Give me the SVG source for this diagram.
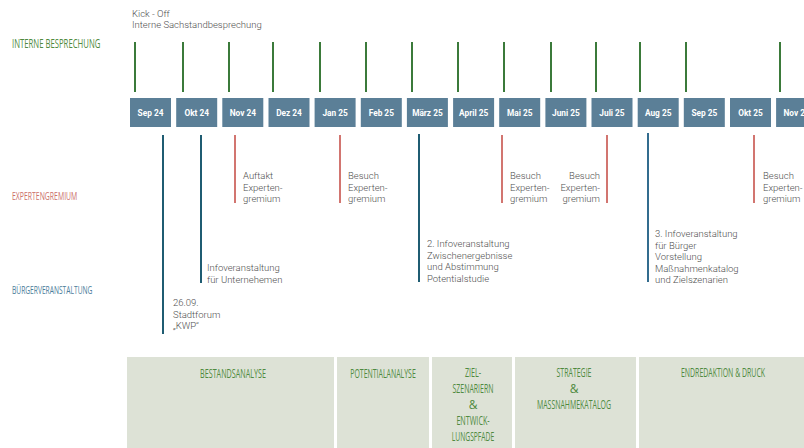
<svg xmlns="http://www.w3.org/2000/svg" width="804" height="448" viewBox="0 0 804 448">
<style>
.t{font-family:Roboto,"Liberation Sans",sans-serif;font-size:9.5px;font-weight:300;fill:#505050}
.m{font-family:Roboto,"Liberation Sans",sans-serif;font-size:8.3px;font-weight:700;fill:#ffffff;text-anchor:middle}
.mb{fill:#5b7f97}
.hd{font-family:"Open Sans","Liberation Sans",sans-serif;text-transform:uppercase;font-weight:400}
.ph{fill:#dde2d6}
.pt{font-family:"Open Sans","Liberation Sans",sans-serif;text-transform:uppercase;font-size:12px;fill:#4f8a40;text-anchor:middle}
.g{stroke:#3b7a3a;stroke-width:2}
.r{stroke:#d27570;stroke-width:2}
.b{stroke:#1f5c72;stroke-width:2}
.b2{stroke:#336c8e;stroke-width:2}
</style>
<rect width="804" height="448" fill="#ffffff"/>
<g id="labels">
<text class="hd" transform="translate(12,48) scale(0.62,1)" font-size="12.5" fill="#4f8a40">Interne Besprechung</text>
<text class="hd" transform="translate(12,200) scale(0.6,1)" font-size="11.5" fill="#cc706a">Expertengremium</text>
<text class="hd" transform="translate(12,294) scale(0.58,1)" font-size="11.5" fill="#4b7d9a">Bürgerveranstaltung</text>
</g>
<g id="kickoff">
<text class="t" x="132" y="17">Kick - Off</text>
<text class="t" x="132" y="28">Interne Sachstandbesprechung</text>
</g>
<g id="connectors">
<line class="g" x1="135" y1="42" x2="135" y2="92"/>
<line class="g" x1="183" y1="42" x2="183" y2="92"/>
<line class="g" x1="229" y1="42" x2="229" y2="92"/>
<line class="g" x1="273" y1="42" x2="273" y2="92"/>
<line class="g" x1="320" y1="42" x2="320" y2="92"/>
<line class="g" x1="366" y1="42" x2="366" y2="92"/>
<line class="g" x1="412" y1="42" x2="412" y2="92"/>
<line class="g" x1="458" y1="42" x2="458" y2="92"/>
<line class="g" x1="504" y1="42" x2="504" y2="92"/>
<line class="g" x1="551" y1="42" x2="551" y2="92"/>
<line class="g" x1="596" y1="42" x2="596" y2="92"/>
<line class="g" x1="640" y1="42" x2="640" y2="92"/>
<line class="g" x1="686" y1="42" x2="686" y2="92"/>
<line class="g" x1="780" y1="42" x2="780" y2="92"/>
<line class="b" x1="163" y1="135" x2="163" y2="334"/>
<line class="b" x1="201" y1="135" x2="201" y2="283"/>
<line class="r" x1="235" y1="135" x2="235" y2="203"/>
<line class="r" x1="340" y1="135" x2="340" y2="203"/>
<line class="b" x1="419" y1="134" x2="419" y2="282"/>
<line class="r" x1="502" y1="135" x2="502" y2="203"/>
<line class="r" x1="607" y1="135" x2="607" y2="203"/>
<line class="b2" x1="648" y1="133" x2="648" y2="282"/>
<line class="r" x1="754" y1="135" x2="754" y2="203"/>
</g>
<g id="months">
<rect class="mb" x="130" y="98" width="41" height="29"/><text class="m" x="150.5" y="116">Sep 24</text>
<rect class="mb" x="176.2" y="98" width="41" height="29"/><text class="m" x="196.7" y="116">Okt 24</text>
<rect class="mb" x="222.3" y="98" width="41" height="29"/><text class="m" x="242.8" y="116">Nov 24</text>
<rect class="mb" x="268.5" y="98" width="41" height="29"/><text class="m" x="289" y="116">Dez 24</text>
<rect class="mb" x="314.6" y="98" width="41" height="29"/><text class="m" x="335.1" y="116">Jan 25</text>
<rect class="mb" x="360.8" y="98" width="41" height="29"/><text class="m" x="381.3" y="116">Feb 25</text>
<rect class="mb" x="406.9" y="98" width="41" height="29"/><text class="m" x="427.4" y="116">März 25</text>
<rect class="mb" x="453.1" y="98" width="41" height="29"/><text class="m" x="473.6" y="116">April 25</text>
<rect class="mb" x="499.2" y="98" width="41" height="29"/><text class="m" x="519.7" y="116">Mai 25</text>
<rect class="mb" x="545.4" y="98" width="41" height="29"/><text class="m" x="565.9" y="116">Juni 25</text>
<rect class="mb" x="591.5" y="98" width="41" height="29"/><text class="m" x="612" y="116">Juli 25</text>
<rect class="mb" x="637.7" y="98" width="41" height="29"/><text class="m" x="658.2" y="116">Aug 25</text>
<rect class="mb" x="683.8" y="98" width="41" height="29"/><text class="m" x="704.3" y="116">Sep 25</text>
<rect class="mb" x="730" y="98" width="41" height="29"/><text class="m" x="750.5" y="116">Okt 25</text>
<rect class="mb" x="776.1" y="98" width="41" height="29"/><text class="m" x="796.6" y="116">Nov 25</text>
</g>
<g id="ev-stadtforum">
<text class="t" x="173" y="306">26.09.</text>
<text class="t" x="173" y="317.5">Stadtforum</text>
<text class="t" x="173" y="329">„KWP“</text>
</g>
<g id="ev-unternehmen">
<text class="t" x="207" y="271">Infoveranstaltung</text>
<text class="t" x="207" y="282.5">für Unternehemen</text>
</g>
<g id="ev-auftakt">
<text class="t" x="243" y="179">Auftakt</text>
<text class="t" x="243" y="190.5">Experten-</text>
<text class="t" x="243" y="202">gremium</text>
</g>
<g id="ev-besuch-jan">
<text class="t" x="348" y="179">Besuch</text>
<text class="t" x="348" y="190.5">Experten-</text>
<text class="t" x="348" y="202">gremium</text>
</g>
<g id="ev-info2">
<text class="t" x="427" y="247">2. Infoveranstaltung</text>
<text class="t" x="427" y="258.5">Zwischenergebnisse</text>
<text class="t" x="427" y="270">und Abstimmung</text>
<text class="t" x="427" y="281.5">Potentialstudie</text>
</g>
<g id="ev-besuch-mai">
<text class="t" x="510" y="179">Besuch</text>
<text class="t" x="510" y="190.5">Experten-</text>
<text class="t" x="510" y="202">gremium</text>
</g>
<g id="ev-besuch-juli" text-anchor="end">
<text class="t" x="600" y="179">Besuch</text>
<text class="t" x="600" y="190.5">Experten-</text>
<text class="t" x="600" y="202">gremium</text>
</g>
<g id="ev-info3">
<text class="t" x="655" y="237">3. Infoveranstaltung</text>
<text class="t" x="655" y="248.5">für Bürger</text>
<text class="t" x="655" y="260">Vorstellung</text>
<text class="t" x="655" y="271.5">Maßnahmenkatalog</text>
<text class="t" x="655" y="283">und Zielszenarien</text>
</g>
<g id="ev-besuch-okt">
<text class="t" x="763" y="179">Besuch</text>
<text class="t" x="763" y="190.5">Experten-</text>
<text class="t" x="763" y="202">gremium</text>
</g>
<g id="ph-bestand">
<rect class="ph" x="127" y="357" width="207" height="91"/>
<text class="pt" transform="translate(233,378) scale(0.6,1)">Bestandsanalyse</text>
</g>
<g id="ph-potential">
<rect class="ph" x="337" y="357" width="92" height="91"/>
<text class="pt" transform="translate(383,378) scale(0.58,1)">Potentialanalyse</text>
</g>
<g id="ph-ziel">
<rect class="ph" x="432" y="357" width="80" height="91"/>
<text class="pt" transform="translate(473,377) scale(0.6,1)">Ziel-</text>
<text class="pt" transform="translate(473,393) scale(0.58,1)">szenariern</text>
<text class="pt" x="473" y="409">&amp;</text>
<text class="pt" transform="translate(473,425) scale(0.6,1)">Entwick-</text>
<text class="pt" transform="translate(473,441) scale(0.56,1)">lungspfade</text>
</g>
<g id="ph-strategie">
<rect class="ph" x="515" y="357" width="121" height="91"/>
<text class="pt" transform="translate(574,377) scale(0.58,1)">Strategie</text>
<text class="pt" x="574" y="393">&amp;</text>
<text class="pt" transform="translate(574,409) scale(0.58,1)">Maßnahmekatalog</text>
</g>
<g id="ph-endredaktion">
<rect class="ph" x="639" y="357" width="165" height="91"/>
<text class="pt" transform="translate(723,377) scale(0.58,1)">Endredaktion &amp; Druck</text>
</g>
</svg>
